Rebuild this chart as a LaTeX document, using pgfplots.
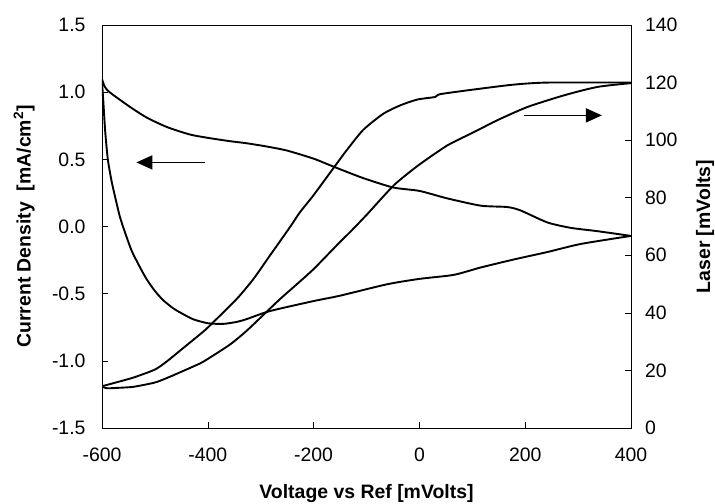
\documentclass[border=0pt]{standalone}
\usepackage{fontspec}
\setmainfont{Liberation Sans}
\usepackage{pgfplots}
\pgfplotsset{compat=1.18}
\usetikzlibrary{arrows.meta}

\begin{document}
\begin{tikzpicture}
\pgfplotsset{
  common/.style={
    scale only axis, width=529bp, height=403bp,
    xmin=-600, xmax=400,
    at={(0,0)}, anchor=south west,
    tick align=inside, major tick length=6bp,
    tick style={black, line width=0.6bp},
    axis line style={line width=0.8bp},
    /pgf/number format/assume math mode=true,
    ticklabel style={font=\fontsize{19.5}{22}\selectfont},
    label style={font=\bfseries\fontsize{19.5}{23}\selectfont},
  }
}
\begin{axis}[common,
  ymin=-1.5, ymax=1.5,
  xtick={-600,-400,...,400},
  ytick={-1.5,-1,-0.5,0,0.5,1,1.5},
  xtick pos=bottom, ytick pos=left,
  yticklabel style={xshift=-13bp, /pgf/number format/fixed, /pgf/number format/fixed zerofill, /pgf/number format/precision=1},
  xticklabel style={yshift=-16bp},
  xlabel={Voltage vs Ref [mVolts]},
  ylabel={Current Density\ \ [mA/cm\textsuperscript{2}]},
  xlabel style={at={(axis description cs:0.5,-0.1638)}, anchor=center},
  ylabel style={at={(axis description cs:-0.1474,0.5)}, anchor=center},
]
\addplot[black, line width=1.9bp, smooth, tension=0.4] coordinates {
(-600,1.10) (-596,1.05) (-590,1.015) (-579,0.98) (-547,0.89) (-515,0.81)
(-477,0.74) (-434,0.685) (-400,0.66) (-358,0.635) (-327,0.62) (-288,0.595)
(-250,0.565) (-200,0.505) (-162,0.445) (-106,0.36) (-49,0.29) (0,0.265)
(52,0.21) (116,0.155) (166,0.145) (191,0.12) (242,0.03) (286,-0.01)
(337,-0.035) (400,-0.07)
};
\addplot[black, line width=1.9bp, smooth, tension=0.4] coordinates {
(-600,1.08) (-597,0.90) (-594,0.71) (-589,0.50) (-582,0.34) (-574,0.20)
(-566,0.07) (-556,-0.05) (-544,-0.18) (-530,-0.29) (-516,-0.39) (-500,-0.48)
(-484,-0.55) (-465,-0.61) (-450,-0.645) (-428,-0.69) (-400,-0.72) (-371,-0.725)
(-345,-0.71) (-327,-0.69) (-283,-0.63) (-200,-0.555) (-150,-0.515) (-61,-0.43)
(0,-0.39) (65,-0.36) (116,-0.305) (179,-0.245) (242,-0.19) (305,-0.13) (400,-0.07)
};
\draw[black, line width=1.7bp, -{Triangle[length=16bp,width=14bp]}]
  (axis cs:-405,0.477) -- (axis cs:-535,0.477);
\end{axis}
\begin{axis}[common,
  ymin=0, ymax=140,
  axis x line=none,
  axis y line*=right,
  ytick={0,20,...,140},
  yticklabel style={xshift=10.5bp},
  ylabel={Laser [mVolts]},
  ylabel style={at={(axis description cs:1.140,0.5)}, anchor=center},
]
\addplot[black, line width=1.9bp, smooth, tension=0.4] coordinates {
(-600,14.5) (-580,15.5) (-541,17.5) (-500,20.3) (-477,23.2) (-453,26.8)
(-415,32.5) (-400,34.9) (-346,44.7) (-314,51.7) (-283,59.8) (-245,69.7)
(-226,74.9) (-200,80.9) (-162,90.4) (-137,96.6) (-106,103.6) (-68,109.2)
(-36,112.1) (-4,114.1) (30,115) (40,116) (116,117.9) (179,119.3) (242,120) (400,120)
};
\addplot[black, line width=1.9bp, smooth, tension=0.4] coordinates {
(-600,14.3) (-590,13.8) (-576,13.9) (-541,14.3) (-500,15.8) (-477,17.4)
(-453,19.3) (-415,22.4) (-400,24) (-358,29) (-327,33.7) (-292,39.8)
(-264,44.7) (-232,49.9) (-200,55.2) (-156,63.5) (-125,69.2) (-99,74.2)
(-49,84.2) (-11,90) (15,93.5) (52,98.1) (71,99.9) (116,104) (147,106.9)
(204,111.5) (274,115.6) (337,118.5) (400,119.8)
};
\draw[black, line width=1.7bp, -{Triangle[length=16bp,width=14bp]}]
  (axis cs:198,108.6) -- (axis cs:345,108.6);
\end{axis}
\pgfresetboundingbox
\path (-102bp,-76bp) rectangle (613bp,428bp);
\end{tikzpicture}
\end{document}
